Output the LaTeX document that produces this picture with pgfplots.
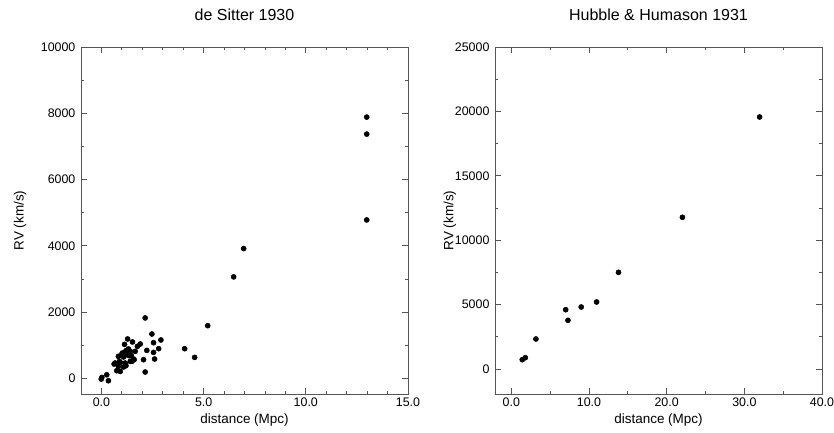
\documentclass[border=0pt]{standalone}
\usepackage{pgfplots}
\pgfplotsset{compat=1.18}
\usepackage{fontspec}
\setmainfont{Liberation Sans}

\definecolor{axgray}{HTML}{555555}

\pgfplotsset{
  hubble/.style={
    scale only axis,
    width=245.25bp, height=260.25bp,
    axis line style={axgray, line width=0.6pt},
    every tick/.style={axgray, line width=0.6pt},
    major tick length=4.5bp,
    minor tick length=2.5bp,
    tick label style={font=\fontsize{9.3bp}{11bp}\selectfont, black, inner sep=1bp},
    label style={font=\fontsize{10.1bp}{12bp}\selectfont},
    title style={font=\fontsize{12bp}{14bp}\selectfont, at={(0.5,1)}, anchor=center, yshift=18bp},
    xlabel style={at={(0.5,0)}, anchor=center, yshift=-19.5bp},
    scaled x ticks=false, scaled y ticks=false,
    xticklabel style={yshift=-1.5bp},
    yticklabel style={xshift=-3bp},
    /pgf/number format/assume math mode=true,
  },
  dots/.style={black, only marks, mark=*, mark size=1.9bp, mark options={fill=black}},
}

\begin{document}
\begin{tikzpicture}
\useasboundingbox (-60.75bp,-29.25bp) rectangle (564.75bp,295.5bp);

\begin{axis}[hubble,
  at={(0,0)}, anchor=south west,
  title={de Sitter 1930},
  xlabel={distance (Mpc)},
  ylabel={RV (km/s)},
  ylabel style={at={(axis description cs:-0.1865,0.5)}, anchor=center},
  xmin=-1, xmax=15, ymin=-470, ymax=10000,
  xtick={0,5,10,15}, xticklabels={0.0,5.0,10.0,15.0},
  ytick={0,2000,4000,6000,8000,10000},
  yticklabels={0,2000,4000,6000,8000,10000},
  minor x tick num=4, minor y tick num=1,
]
\addplot[dots] coordinates {
 (0.02,30) (-0.01,-20) (0.26,110) (0.34,-70)
 (0.62,435) (0.67,465) (0.75,233) (0.92,211) (0.83,363) (1.08,344)
 (0.92,484) (1.16,465) (1.41,514) (0.83,665) (1.00,737) (1.25,716)
 (1.46,686) (1.57,586) (1.65,816) (1.32,888) (1.13,1027) (1.28,1190)
 (1.52,1100) (1.76,967) (1.90,1039) (2.06,565) (2.14,193) (2.14,1825)
 (2.22,846) (2.47,1340) (2.55,1078) (2.55,785) (2.60,586) (2.80,897)
 (2.91,1160) (1.20,837) (1.36,686) (1.08,647) (1.20,384) (0.88,514)
 (1.49,514) (1.60,565) (1.03,767) (1.41,816)
 (4.07,897) (4.56,635) (5.20,1592) (6.47,3063) (6.96,3918)
 (12.98,4782) (12.98,7372) (12.98,7885)
};
\end{axis}

\begin{axis}[hubble,
  at={(310.5bp,0)}, anchor=south west,
  title={Hubble \& Humason 1931},
  xlabel={distance (Mpc)},
  ylabel={RV (km/s)},
  ylabel style={at={(axis description cs:-0.138,0.5)}, anchor=center},
  xmin=-2.1, xmax=40, ymin=-1940, ymax=25000,
  xtick={0,10,20,30,40}, xticklabels={0.0,10.0,20.0,30.0,40.0},
  ytick={0,5000,10000,15000,20000,25000},
  yticklabels={0,5000,10000,15000,20000,25000},
  minor x tick num=1, minor y tick num=1,
]
\addplot[dots] coordinates {
 (1.41,722) (1.80,877) (3.17,2330) (7.00,4604) (7.29,3780)
 (9.00,4814) (10.98,5202) (13.80,7508) (22.03,11778) (31.97,19565)
};
\end{axis}
\end{tikzpicture}
\end{document}
